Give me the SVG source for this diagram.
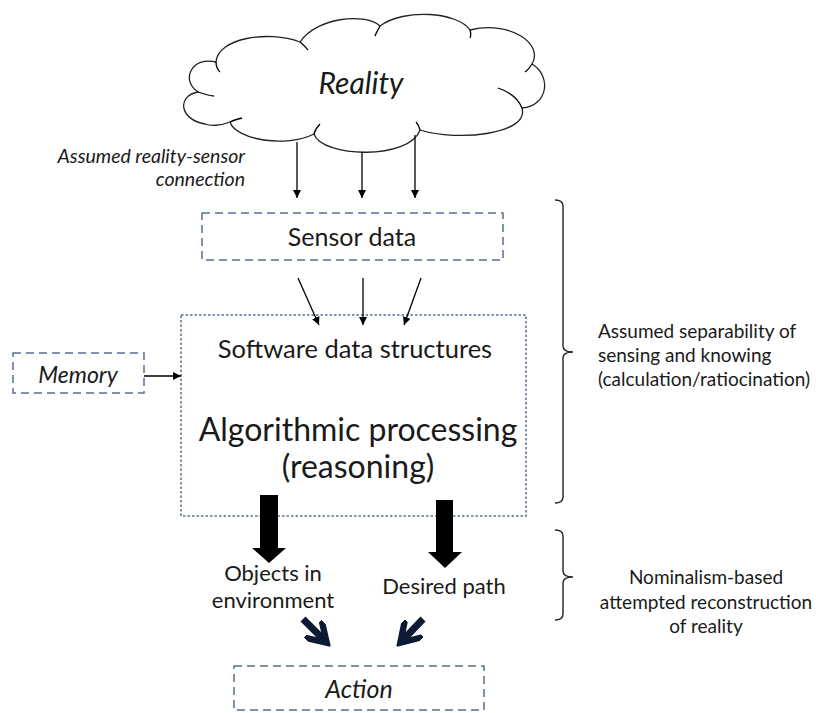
<svg xmlns="http://www.w3.org/2000/svg" width="816" height="713" viewBox="0 0 816 713">
<defs>
<marker id="ah" viewBox="0 0 10 10" refX="10" refY="5" markerWidth="8" markerHeight="8" markerUnits="userSpaceOnUse" orient="auto"><path d="M0,0 L10,5 L0,10 Z" fill="#000"/></marker>
<marker id="ahn" viewBox="0 0 10 10" refX="7" refY="5" markerWidth="3.6" markerHeight="3.6" orient="auto"><path d="M0,0 L8,5 L0,10" fill="none" stroke="#0d1a33" stroke-width="2.5"/></marker>
<style>
text{font-family:Lato,"Open Sans","Liberation Sans",sans-serif;fill:#1a1a1a}
.dash{fill:none;stroke:#5a6e96;stroke-width:1.5;stroke-dasharray:8 5}
.dot{fill:none;stroke:#5a6e96;stroke-width:1.5;stroke-dasharray:2.5 2}
.thin{stroke:#000;stroke-width:1.3;fill:none}
.brace{stroke:#222;stroke-width:1.4;fill:none}
.it{font-style:italic}
</style>
</defs>
<g id="reality">
<path d="M205,124 C180,120 176,96 198,92 C180,80 192,56 216,62 C218,38 268,30 300,42 C316,18 364,12 380,26 C404,8 458,12 470,30 C510,20 544,44 532,64 C552,76 548,106 522,108 C530,134 458,142 420,130 C410,160 322,158 314,134 C286,148 236,140 230,122 C220,126 210,126 205,124 Z" fill="#fff" stroke="#222" stroke-width="1.3"/>
<path d="M198,92 C204,94 210,96 214,96" class="thin"/>
<path d="M216,62 C216,66 218,70 220,72" class="thin"/>
<path d="M300,42 C304,45 306,48 308,50" class="thin"/>
<path d="M380,26 C378,30 376,33 375,36" class="thin"/>
<path d="M470,30 C471,33 471,36 470,38" class="thin"/>
<path d="M532,64 C530,67 528,70 525,72" class="thin"/>
<path d="M522,108 C518,98 510,92 498,88" class="thin"/>
<path d="M420,130 C419,126 418,124 416,122" class="thin"/>
<path d="M314,134 C315,130 317,127 320,124" class="thin"/>
<path d="M230,122 C234,120 238,119 242,118" class="thin"/>
<text x="361" y="94" font-size="30" text-anchor="middle" class="it">Reality</text>
</g>
<g id="sensor-label">
<text x="245" y="163" font-size="19.5" text-anchor="end" class="it">Assumed reality-sensor</text>
<text x="245" y="186" font-size="19.5" text-anchor="end" class="it">connection</text>
</g>
<g id="sensor">
<rect x="202" y="213" width="301" height="47" class="dash"/>
<text x="352" y="246" font-size="25" text-anchor="middle">Sensor data</text>
</g>
<g id="memory">
<rect x="13" y="353" width="131" height="40" class="dash"/>
<text x="78" y="383" font-size="23" text-anchor="middle" class="it">Memory</text>
</g>
<g id="processing">
<rect x="181" y="315" width="345" height="201" class="dot"/>
<text x="355" y="358" font-size="25.5" text-anchor="middle">Software data structures</text>
<text x="358" y="441" font-size="32" text-anchor="middle">Algorithmic processing</text>
<text x="358" y="478" font-size="32" text-anchor="middle">(reasoning)</text>
</g>
<g id="objects">
<text x="273" y="581" font-size="22" text-anchor="middle">Objects in</text>
<text x="273" y="608" font-size="22" text-anchor="middle">environment</text>
</g>
<g id="path">
<text x="444" y="594" font-size="22" text-anchor="middle">Desired path</text>
</g>
<g id="action">
<rect x="234" y="666" width="250" height="44" class="dash"/>
<text x="359" y="698" font-size="25" text-anchor="middle" class="it">Action</text>
</g>
<g id="brace-upper">
<path d="M555,200 Q563,200 563,206 L563,346 Q563,352 573,352 Q563,352 563,358 L563,497 Q563,503 555,503" class="brace"/>
<text x="598" y="338" font-size="19">Assumed separability of</text>
<text x="598" y="362" font-size="19">sensing and knowing</text>
<text x="598" y="386" font-size="19">(calculation/ratiocination)</text>
</g>
<g id="brace-lower">
<path d="M555,530 Q563,530 563,536 L563,571 Q563,577 573,577 Q563,577 563,583 L563,614 Q563,620 555,620" class="brace"/>
<text x="706" y="584" font-size="19" text-anchor="middle">Nominalism-based</text>
<text x="706" y="609" font-size="19" text-anchor="middle">attempted reconstruction</text>
<text x="706" y="633" font-size="19" text-anchor="middle">of reality</text>
</g>
<g id="connectors">
<line x1="297" y1="142" x2="297" y2="198" stroke="#000" stroke-width="1.3" marker-end="url(#ah)"/>
<line x1="362" y1="152" x2="362" y2="198" stroke="#000" stroke-width="1.3" marker-end="url(#ah)"/>
<line x1="415" y1="135" x2="415" y2="198" stroke="#000" stroke-width="1.3" marker-end="url(#ah)"/>
<line x1="298" y1="278" x2="319" y2="325" stroke="#000" stroke-width="1.3" marker-end="url(#ah)"/>
<line x1="363" y1="278" x2="363" y2="325" stroke="#000" stroke-width="1.3" marker-end="url(#ah)"/>
<line x1="421" y1="278" x2="404" y2="325" stroke="#000" stroke-width="1.3" marker-end="url(#ah)"/>
<line x1="144" y1="376" x2="181" y2="376" stroke="#000" stroke-width="1.3" marker-end="url(#ah)"/>
<path d="M260,495 L278,495 L278,548 L286,548 L269,563 L252,548 L260,548 Z" fill="#000"/>
<path d="M436,500 L453,500 L453,552 L462,552 L445,568 L428,552 L436,552 Z" fill="#000"/>
<line x1="303" y1="619" x2="325" y2="641" stroke="#0d1a33" stroke-width="7" marker-end="url(#ahn)"/>
<line x1="423" y1="619" x2="402" y2="641" stroke="#0d1a33" stroke-width="7" marker-end="url(#ahn)"/>
</g>
</svg>
